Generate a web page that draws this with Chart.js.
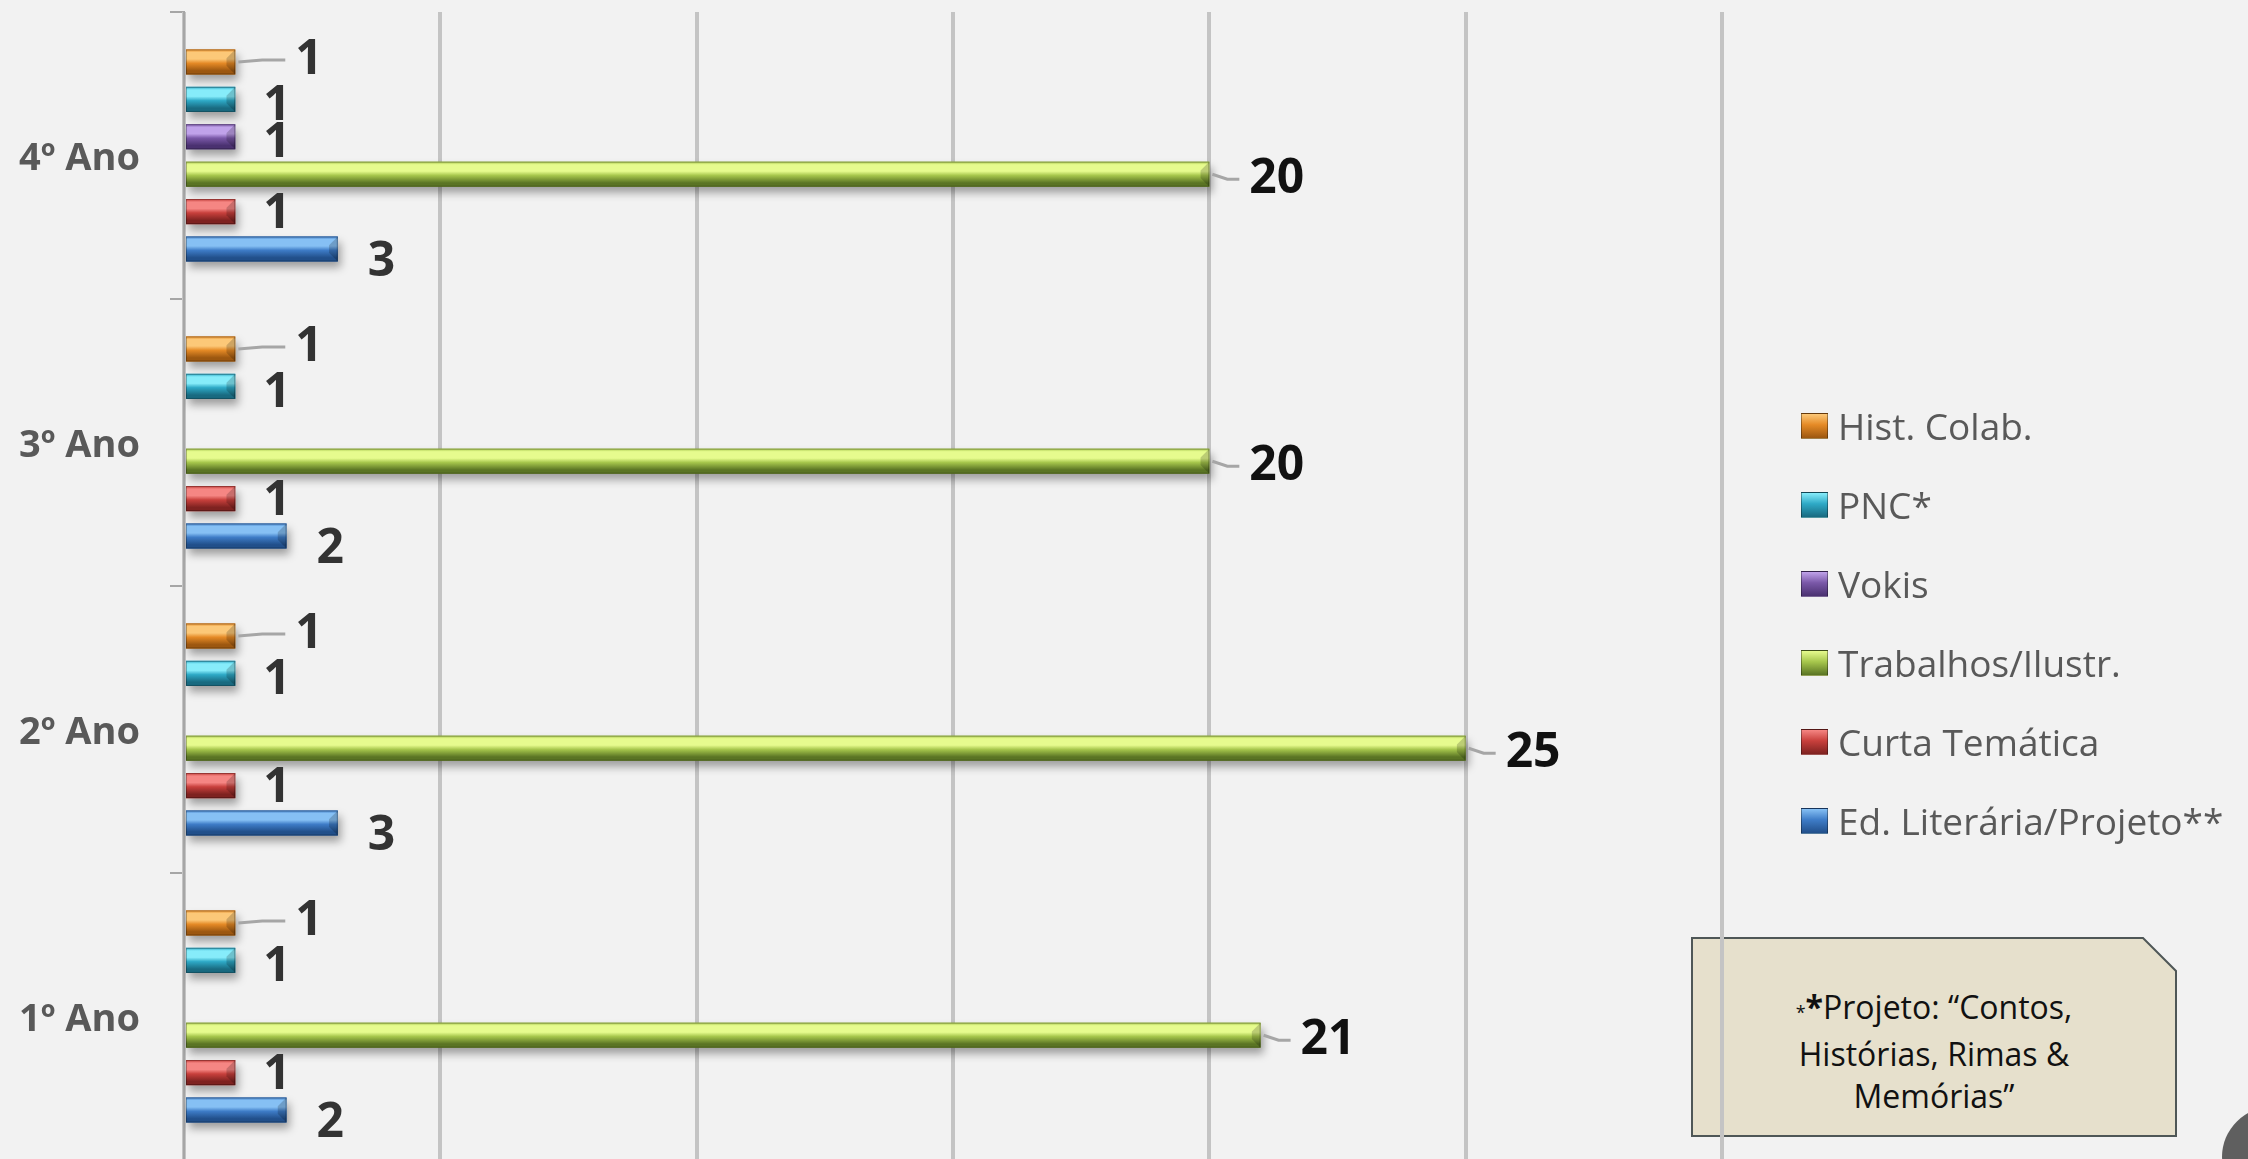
<!DOCTYPE html>
<html>
<head>
<meta charset="utf-8">
<script src="https://cdn.jsdelivr.net/npm/chart.js@4"></script>
<style>
  html, body { margin: 0; padding: 0; background: #f2f2f2; overflow: hidden; }
  #wrap { position: relative; width: 2248px; height: 1159px; }
  #chart { position: absolute; left: 0; top: 0; z-index: 1; }
  #legend { position: absolute; left: 1801px; top: 386px; z-index: 2;
    font-family: "Open Sans", sans-serif; font-size: 37px; color: #595959; }
  #legend .row { height: 79px; display: flex; align-items: center; white-space: nowrap; }
  #legend .sw { width: 27px; height: 26px; margin-right: 10px; box-sizing: border-box;
    border: 1px solid rgba(0,0,0,0.35); }
  #note { position: absolute; left: 1691px; top: 937px; width: 486px; height: 200px; z-index: 0; }
  #note svg { position: absolute; left: 0; top: 0; }
  #note .txt { position: absolute; left: 0; top: 49px; width: 486px; text-align: center;
    font-family: "Open Sans", sans-serif; font-size: 32px; line-height: 42px; color: #111; }
  #note .small { font-size: 18px; }
  #badge { position: absolute; left: 2222px; top: 1107px; width: 100px; height: 100px;
    border-radius: 50%; background: #5f5f5f; z-index: 2; }
</style>
</head>
<body>
<div id="wrap">
  <div id="note">
    <svg width="486" height="200">
      <polygon points="1,1 452,1 485,34 485,199 1,199" fill="#e6e0cc" stroke="#4f5757" stroke-width="2"/>
    </svg>
    <div class="txt"><span class="small">*</span><b>*</b>Projeto: “Contos,<br>Histórias, Rimas &amp;<br>Memórias”</div>
  </div>
  <canvas id="chart" width="2248" height="1160"></canvas>
  <div id="legend"></div>
  <div id="badge"></div>
</div>
<script>
// categories (top to bottom) and series values
const categories = ['4º Ano', '3º Ano', '2º Ano', '1º Ano'];
const seriesNames = ['Hist. Colab.', 'PNC*', 'Vokis', 'Trabalhos/Ilustr.', 'Curta Temática', 'Ed. Literária/Projeto**'];
const histColab = [1, 1, 1, 1];
const pnc = [1, 1, 1, 1];
const vokis = [1, null, null, null];
const trabalhos = [20, 20, 25, 21];
const curta = [1, 1, 1, 1];
const edLiteraria = [3, 2, 3, 2];
const axisMax = 30;
const axisStep = 5;

const seriesValues = [histColab, pnc, vokis, trabalhos, curta, edLiteraria];

// colours (highlight, body, shadow side) and label placement per series
const palettes = [
    { hi: '#fcc878', main: '#e58a26', lo: '#9c5710' },
    { hi: '#86ecfa', main: '#2ea9c6', lo: '#196a80' },
    { hi: '#c0a2ea', main: '#7a58a8', lo: '#4a3170' },
    { hi: '#e6fb8e', main: '#a6c64c', lo: '#5a7424' },
    { hi: '#f58683', main: '#c8403c', lo: '#7e2220' },
    { hi: '#86c0f4', main: '#3e7cc7', lo: '#214f8a' }
];
const labelStyle = [
    { gap: 60, dy: -2, leader: true, color: '#333' },
    { gap: 28, dy: 7, leader: false, color: '#333' },
    { gap: 28, dy: 7, leader: false, color: '#333' },
    { gap: 40, dy: 5, leader: true, color: '#111' },
    { gap: 28, dy: 3, leader: false, color: '#333' },
    { gap: 30, dy: 13, leader: false, color: '#333' }
];

const datasets = seriesNames.map(function (name, i) {
    return {
        label: name,
        data: seriesValues[i],
        backgroundColor: palettes[i].main,
        borderWidth: 0,
        categoryPercentage: 0.782,
        barPercentage: 0.67
    };
});

// bevel look, shadow and value labels
const bevelPlugin = {
    id: 'bevel',
    beforeDatasetsDraw(chart) {
        const ctx = chart.ctx;
        ctx.save();
        ctx.shadowColor = 'rgba(0,0,0,0.35)';
        ctx.shadowBlur = 9;
        ctx.shadowOffsetX = 3;
        ctx.shadowOffsetY = 6;
    },
    afterDatasetsDraw(chart) {
        const ctx = chart.ctx;
        ctx.restore();
        chart.data.datasets.forEach(function (ds, di) {
            const meta = chart.getDatasetMeta(di);
            const p = palettes[di];
            meta.data.forEach(function (el, i) {
                if (ds.data[i] == null) return;
                const left = Math.min(el.base, el.x);
                const right = Math.max(el.base, el.x);
                const top = el.y - el.height / 2;
                const h = el.height;
                const g = ctx.createLinearGradient(0, top, 0, top + h);
                g.addColorStop(0, p.main);
                g.addColorStop(0.12, p.hi);
                g.addColorStop(0.38, p.hi);
                g.addColorStop(0.55, p.main);
                g.addColorStop(0.85, p.lo);
                g.addColorStop(1, p.lo);
                ctx.save();
                ctx.fillStyle = g;
                ctx.fillRect(left, top, right - left, h);
                // slanted end bevel
                const b = Math.min(h * 0.35, (right - left) / 3);
                ctx.fillStyle = 'rgba(0,0,0,0.18)';
                ctx.beginPath();
                ctx.moveTo(right - b, top + b);
                ctx.lineTo(right, top);
                ctx.lineTo(right, top + h);
                ctx.lineTo(right - b, top + h - b);
                ctx.closePath();
                ctx.fill();
                ctx.strokeStyle = 'rgba(0,0,0,0.28)';
                ctx.lineWidth = 1;
                ctx.strokeRect(left + 0.5, top + 0.5, right - left - 1, h - 1);
                ctx.restore();
            });
        });
        // value labels
        ctx.save();
        ctx.font = 'bold 48px "Open Sans"';
        ctx.textAlign = 'left';
        ctx.textBaseline = 'middle';
        chart.data.datasets.forEach(function (ds, di) {
            const meta = chart.getDatasetMeta(di);
            const s = labelStyle[di];
            meta.data.forEach(function (el, i) {
                const v = ds.data[i];
                if (v == null) return;
                const lx = el.x + s.gap;
                const ly = el.y + s.dy;
                if (s.leader) {
                    ctx.strokeStyle = '#a6a6a6';
                    ctx.lineWidth = 3;
                    ctx.beginPath();
                    ctx.moveTo(el.x + 3, el.y);
                    ctx.lineTo(el.x + s.gap * 0.45, ly);
                    ctx.lineTo(lx - 10, ly);
                    ctx.stroke();
                }
                ctx.fillStyle = s.color;
                ctx.fillText(String(v), lx, ly);
            });
        });
        ctx.restore();
    }
};

const ctx = document.getElementById('chart').getContext('2d');
const chart = new Chart(ctx, {
    type: 'bar',
    data: { labels: categories, datasets: datasets },
    options: {
        indexAxis: 'y',
        responsive: false,
        animation: false,
        devicePixelRatio: 1,
        layout: { padding: { top: 12, right: 526, bottom: 0, left: 0 } },
        plugins: {
            legend: { display: false },
            tooltip: { enabled: false }
        },
        scales: {
            y: {
                offset: true,
                grid: { drawOnChartArea: false, drawTicks: true, tickLength: 14, color: '#a6a6a6', lineWidth: 2, offset: true },
                border: { color: '#a6a6a6', width: 2 },
                ticks: { color: '#595959', padding: 30, labelOffset: 4, font: { family: 'Open Sans', size: 38, weight: 'bold' } },
                afterFit: function (scale) {
                    scale.width = 184;
                    scale.paddingTop = 0;
                    scale.paddingBottom = 0;
                }
            },
            x: {
                min: 0,
                max: axisMax,
                ticks: { stepSize: axisStep, display: false },
                grid: { color: '#c4c4c4', lineWidth: 4, drawTicks: false },
                border: { display: false },
                afterFit: function (scale) {
                    scale.height = 0;
                    scale.paddingLeft = 0;
                    scale.paddingRight = 0;
                }
            }
        }
    },
    plugins: [bevelPlugin]
});

// legend built from the datasets
const legend = document.getElementById('legend');
datasets.forEach(function (ds, i) {
    const row = document.createElement('div');
    row.className = 'row';
    const sw = document.createElement('span');
    sw.className = 'sw';
    const p = palettes[i];
    sw.style.background = 'linear-gradient(' + p.hi + ' 0%, ' + p.main + ' 45%, ' + p.lo + ' 100%)';
    const t = document.createElement('span');
    t.textContent = ds.label;
    row.appendChild(sw);
    row.appendChild(t);
    legend.appendChild(row);
});
</script>
</body>
</html>
